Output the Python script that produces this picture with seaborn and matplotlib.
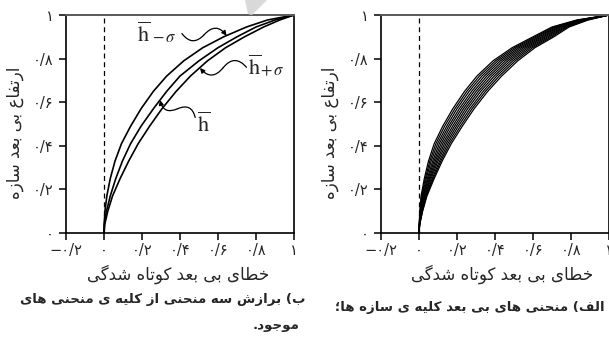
import numpy as np
import pandas as pd
import matplotlib
matplotlib.use("Agg")
import matplotlib.pyplot as plt
from matplotlib.patches import Polygon
import seaborn as sns

# ---------------- data ----------------
y_levels = [0, 0.04, 0.10, 0.17, 0.25, 0.33, 0.41, 0.49, 0.57, 0.65, 0.72, 0.79, 0.85, 0.90, 0.945, 0.977, 1.0]

# panel (b): three fitted curves (x at each height level)
h_minus = [0, 0.001, 0.005, 0.015, 0.033, 0.058, 0.092, 0.140, 0.195, 0.260, 0.330, 0.420, 0.520, 0.630, 0.750, 0.860, 1]
h_mean = [0, 0.002, 0.013, 0.033, 0.062, 0.097, 0.140, 0.195, 0.260, 0.330, 0.400, 0.500, 0.600, 0.700, 0.800, 0.900, 1]
h_plus = [0, 0.004, 0.020, 0.045, 0.085, 0.130, 0.180, 0.240, 0.305, 0.380, 0.455, 0.545, 0.640, 0.740, 0.840, 0.925, 1]

# panel (a): curves of all structures
all_curves = [
    [0, 0.001, 0.004, 0.011, 0.028, 0.050, 0.080, 0.125, 0.178, 0.240, 0.305, 0.390, 0.490, 0.600, 0.700, 0.830, 1],
    [0, 0.001, 0.006, 0.014, 0.033, 0.057, 0.089, 0.135, 0.189, 0.252, 0.318, 0.403, 0.502, 0.611, 0.709, 0.836, 1],
    [0, 0.002, 0.007, 0.017, 0.038, 0.064, 0.098, 0.146, 0.200, 0.264, 0.331, 0.416, 0.514, 0.622, 0.718, 0.842, 1],
    [0, 0.002, 0.009, 0.020, 0.044, 0.072, 0.107, 0.156, 0.212, 0.277, 0.344, 0.429, 0.526, 0.633, 0.727, 0.848, 1],
    [0, 0.002, 0.010, 0.023, 0.049, 0.079, 0.116, 0.166, 0.223, 0.289, 0.357, 0.442, 0.538, 0.644, 0.736, 0.854, 1],
    [0, 0.003, 0.012, 0.027, 0.054, 0.086, 0.125, 0.177, 0.234, 0.301, 0.370, 0.455, 0.550, 0.655, 0.745, 0.860, 1],
    [0, 0.003, 0.013, 0.030, 0.059, 0.093, 0.134, 0.187, 0.245, 0.313, 0.383, 0.468, 0.562, 0.666, 0.754, 0.866, 1],
    [0, 0.003, 0.015, 0.033, 0.064, 0.100, 0.143, 0.197, 0.256, 0.325, 0.396, 0.481, 0.574, 0.677, 0.763, 0.872, 1],
    [0, 0.003, 0.016, 0.036, 0.070, 0.108, 0.152, 0.207, 0.268, 0.338, 0.409, 0.494, 0.586, 0.688, 0.772, 0.878, 1],
    [0, 0.004, 0.018, 0.039, 0.075, 0.115, 0.161, 0.218, 0.279, 0.350, 0.422, 0.507, 0.598, 0.699, 0.781, 0.884, 1],
    [0, 0.004, 0.019, 0.042, 0.080, 0.122, 0.170, 0.228, 0.290, 0.362, 0.435, 0.520, 0.610, 0.710, 0.790, 0.890, 1],
]

x_ticks = [-0.2, 0, 0.2, 0.4, 0.6, 0.8, 1.0]
x_tick_labels = ["\u2212\u06f0/\u06f2", "\u06f0", "\u06f0/\u06f2", "\u06f0/\u06f4", "\u06f0/\u06f6", "\u06f0/\u06f8", "\u06f1"]
y_ticks = [0, 0.2, 0.4, 0.6, 0.8, 1.0]
y_tick_labels = ["\u06f0", "\u06f0/\u06f2", "\u06f0/\u06f4", "\u06f0/\u06f6", "\u06f0/\u06f8", "\u06f1"]

x_label = "خطای بی بعد کوتاه شدگی"
y_label = "ارتفاع بی بعد سازه"
caption_b1 = "ب) برازش سه منحنی از کلیه ی منحنی های"
caption_b2 = "موجود."
caption_a = "الف) منحنی های بی بعد کلیه ی سازه ها؛"

# ---------------- simple Arabic/Persian shaping ----------------
FORMS = {
    '\u0627': ('\uFE8D', '\uFE8E', None, None),
    '\u0628': ('\uFE8F', '\uFE90', '\uFE91', '\uFE92'),
    '\u062A': ('\uFE95', '\uFE96', '\uFE97', '\uFE98'),
    '\u062C': ('\uFE9D', '\uFE9E', '\uFE9F', '\uFEA0'),
    '\u062D': ('\uFEA1', '\uFEA2', '\uFEA3', '\uFEA4'),
    '\u062E': ('\uFEA5', '\uFEA6', '\uFEA7', '\uFEA8'),
    '\u062F': ('\uFEA9', '\uFEAA', None, None),
    '\u0631': ('\uFEAD', '\uFEAE', None, None),
    '\u0632': ('\uFEAF', '\uFEB0', None, None),
    '\u0633': ('\uFEB1', '\uFEB2', '\uFEB3', '\uFEB4'),
    '\u0634': ('\uFEB5', '\uFEB6', '\uFEB7', '\uFEB8'),
    '\u0637': ('\uFEC1', '\uFEC2', '\uFEC3', '\uFEC4'),
    '\u0639': ('\uFEC9', '\uFECA', '\uFECB', '\uFECC'),
    '\u0641': ('\uFED1', '\uFED2', '\uFED3', '\uFED4'),
    '\u0644': ('\uFEDD', '\uFEDE', '\uFEDF', '\uFEE0'),
    '\u0645': ('\uFEE1', '\uFEE2', '\uFEE3', '\uFEE4'),
    '\u0646': ('\uFEE5', '\uFEE6', '\uFEE7', '\uFEE8'),
    '\u0647': ('\uFEE9', '\uFEEA', '\uFEEB', '\uFEEC'),
    '\u0648': ('\uFEED', '\uFEEE', None, None),
    '\u06CC': ('\uFBFC', '\uFBFD', '\uFBFE', '\uFBFF'),
    '\u06A9': ('\uFB8E', '\uFB8F', '\uFB90', '\uFB91'),
    '\u06AF': ('\uFB92', '\uFB93', '\uFB94', '\uFB95'),
}


def shape(s):
    out = []
    for i, c in enumerate(s):
        if c not in FORMS:
            out.append(c)
            continue
        iso, fin, ini, med = FORMS[c]
        prev = s[i - 1] if i > 0 else None
        nxt = s[i + 1] if i + 1 < len(s) else None
        jp = prev in FORMS and FORMS[prev][2] is not None
        jn = ini is not None and nxt in FORMS
        if jp and jn:
            out.append(med)
        elif jp:
            out.append(fin)
        elif jn:
            out.append(ini)
        else:
            out.append(iso)
    vis = "".join(reversed(out))
    return vis.translate(str.maketrans("()", ")("))


# ---------------- figure ----------------
sns.set_style("ticks")
plt.rcParams["font.family"] = ["DejaVu Sans"]
plt.rcParams["mathtext.fontset"] = "stix"

W, H = 609, 341
fig = plt.figure(figsize=(W / 100, H / 100), dpi=100)


def px_axes(l, t, r, b):
    return fig.add_axes([l / W, 1 - b / H, (r - l) / W, (b - t) / H])


ax_b = px_axes(66, 15, 294, 233)
ax_a = px_axes(381, 15, 609, 233)

n = len(y_levels)
df_b = pd.DataFrame({
    "x": h_minus + h_mean + h_plus,
    "y": y_levels * 3,
    "curve": ["minus"] * n + ["mean"] * n + ["plus"] * n,
})
rows = []
for k, c in enumerate(all_curves):
    for xv, yv in zip(c, y_levels):
        rows.append({"x": xv, "y": yv, "curve": k})
df_a = pd.DataFrame(rows)

sns.lineplot(data=df_b, x="x", y="y", units="curve", estimator=None, sort=False,
             color="black", lw=1.2, ax=ax_b)
sns.lineplot(data=df_a, x="x", y="y", units="curve", estimator=None, sort=False,
             color="black", lw=0.9, ax=ax_a)

for ax, xl_x in ((ax_b, 0.49), (ax_a, 0.53)):
    ax.set_xlim(-0.2, 1.0)
    ax.set_ylim(0, 1.0)
    ax.axvline(0, color="black", lw=0.9, ls=(0, (4, 3)))
    ax.set_xticks(x_ticks)
    ax.set_xticklabels(x_tick_labels, fontsize=10.5)
    ax.set_yticks(y_ticks)
    ax.set_yticklabels(y_tick_labels, fontsize=10.5)
    ax.tick_params(axis="both", direction="out", length=5, width=1.1, color="black", pad=4)
    ax.tick_params(axis="x", pad=2)
    for side in ("left", "bottom", "right"):
        ax.spines[side].set_visible(True)
        ax.spines[side].set_color("black")
        ax.spines[side].set_linewidth(1.2)
    ax.spines["top"].set_visible(True)
    ax.spines["top"].set_color("0.35")
    ax.spines["top"].set_linewidth(1.4)
    ax.set_xlabel(shape(x_label), fontsize=12)
    ax.set_ylabel(shape(y_label), fontsize=12)
    ax.xaxis.set_label_coords(xl_x, -0.145)
    ax.yaxis.set_label_coords(-0.184, 0.46)
    ax.grid(False)


# annotations with wavy arrows on panel (b)
def squiggle(ax, start, end, rad=0.6):
    mid = ((start[0] + end[0]) / 2, (start[1] + end[1]) / 2)
    ax.annotate("", xy=mid, xytext=start,
                arrowprops=dict(arrowstyle="-", color="black", lw=0.9,
                                connectionstyle=f"arc3,rad={rad}", shrinkA=0, shrinkB=0))
    ax.annotate("", xy=end, xytext=mid,
                arrowprops=dict(arrowstyle="-|>", color="black", lw=0.9, mutation_scale=7,
                                connectionstyle=f"arc3,rad={-rad}", shrinkA=0, shrinkB=0))


hbar = r"$\overline{\mathrm{h}}$"
ax_b.text(0.21, 0.876, hbar, fontsize=16, ha="center", va="baseline")
ax_b.text(0.25, 0.876, r"$-\,\sigma$", fontsize=12, ha="left", va="baseline")
ax_b.text(0.79, 0.725, hbar, fontsize=16, ha="center", va="baseline")
ax_b.text(0.822, 0.725, r"$+\,\sigma$", fontsize=12, ha="left", va="baseline")
ax_b.text(0.526, 0.465, hbar, fontsize=16, ha="center", va="baseline")
squiggle(ax_b, (0.41, 0.915), (0.645, 0.905))
squiggle(ax_b, (0.75, 0.76), (0.505, 0.757))
squiggle(ax_b, (0.48, 0.53), (0.295, 0.61))

# captions
fig.text(305 / W, 1 - 300 / H, shape(caption_b1), fontsize=9.6, fontweight="bold",
         ha="right", va="center")
fig.text(300 / W, 1 - 325 / H, shape(caption_b2), fontsize=9.6, fontweight="bold",
         ha="right", va="center")
fig.text(605 / W, 1 - 308 / H, shape(caption_a), fontsize=9.6, fontweight="bold",
         ha="right", va="center")

# light grey mark at the top
poly = [(245, 0), (267, 0), (252, 15), (248, 14)]
fig.patches.append(Polygon([(x / W, 1 - y / H) for x, y in poly], closed=True,
                           transform=fig.transFigure, facecolor="#d9d9d9", edgecolor="none"))

fig.savefig("out.png", dpi=100)
